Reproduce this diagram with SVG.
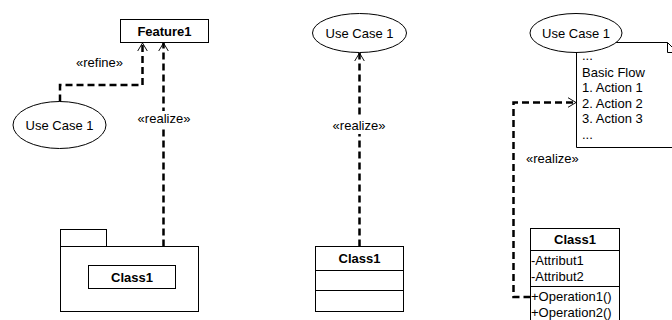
<svg xmlns="http://www.w3.org/2000/svg" width="672" height="320" viewBox="0 0 672 320">
  <defs>
    <style>
      text { font-family: "Liberation Sans", Arial, sans-serif; font-size: 13px; fill: #000; }
      .b { font-weight: bold; }
      .c { text-anchor: middle; }
      .shape { fill: #fff; stroke: #000; stroke-width: 1; }
      .line { fill: none; stroke: #000; stroke-width: 1; }
      .dep { fill: none; stroke: #000; stroke-width: 2.5; stroke-dasharray: 7 4; }
      .lbl { fill: #fff; stroke: none; }
    </style>
    <marker id="open" viewBox="0 0 10 12" refX="10" refY="6" markerWidth="8" markerHeight="12" markerUnits="userSpaceOnUse" orient="auto">
      <path d="M0,0 L10,6 L0,12" fill="none" stroke="#000" stroke-width="1.2"/>
    </marker>
  </defs>

  <!-- Left group -->
  <g id="feature1">
    <rect class="shape" x="120.5" y="19.5" width="88" height="23"/>
    <text class="b c" x="164.5" y="35.5">Feature1</text>
  </g>
  <g id="usecase-left">
    <ellipse class="shape" cx="59.5" cy="125" rx="46.5" ry="23.5"/>
    <text class="c" x="59.5" y="130">Use Case 1</text>
  </g>
  <g id="package">
    <rect class="shape" x="60.5" y="229.5" width="46" height="17"/>
    <rect class="shape" x="60.5" y="246.5" width="138" height="65"/>
    <rect class="shape" x="88.5" y="265.5" width="87" height="23"/>
    <text class="b c" x="132" y="282">Class1</text>
  </g>

  <!-- Middle group -->
  <g id="usecase-mid">
    <ellipse class="shape" cx="359.5" cy="33" rx="47" ry="19.5"/>
    <text class="c" x="359.5" y="38">Use Case 1</text>
  </g>
  <g id="class-mid">
    <rect class="shape" x="315.5" y="246.5" width="88" height="65"/>
    <line class="line" x1="315.5" y1="270.5" x2="403.5" y2="270.5"/>
    <line class="line" x1="315.5" y1="290.5" x2="403.5" y2="290.5"/>
    <text class="b c" x="359.5" y="263">Class1</text>
  </g>

  <!-- Right group -->
  <g id="note">
    <path class="shape" d="M576.5,42.5 H667.5 L677,52 V147.5 H576.5 Z"/>
    <path class="line" d="M667.5,42.5 V52.5 H677"/>
    <text x="582" y="60">...</text>
    <text x="582" y="76.5">Basic Flow</text>
    <text x="582" y="92">1. Action 1</text>
    <text x="582" y="107.5">2. Action 2</text>
    <text x="582" y="123">3. Action 3</text>
    <text x="582" y="138.5">...</text>
  </g>
  <g id="usecase-right">
    <ellipse class="shape" cx="576" cy="33" rx="46" ry="19.5"/>
    <text class="c" x="576" y="38">Use Case 1</text>
  </g>
  <g id="class-right">
    <rect class="shape" x="530.5" y="228.5" width="89" height="95"/>
    <line class="line" x1="530.5" y1="250.5" x2="619.5" y2="250.5"/>
    <line class="line" x1="530.5" y1="286.5" x2="619.5" y2="286.5"/>
    <text class="b c" x="575" y="244">Class1</text>
    <text x="531" y="265">-Attribut1</text>
    <text x="531" y="281">-Attribut2</text>
    <text x="531" y="300.5">+Operation1()</text>
    <text x="531" y="316.5">+Operation2()</text>
  </g>

  <!-- Connectors -->
  <g id="connectors">
    <path class="dep" d="M60,101.5 V85 H142.5 V43" marker-end="url(#open)"/>
    <text x="76" y="67">«refine»</text>

    <path class="dep" d="M163.5,246.5 V43" marker-end="url(#open)"/>
    <rect class="lbl" x="138" y="111" width="52" height="16"/>
    <text class="c" x="164" y="123">«realize»</text>

    <path class="dep" d="M359.5,246.5 V53" marker-end="url(#open)"/>
    <rect class="lbl" x="332" y="118" width="54" height="16"/>
    <text class="c" x="359" y="130">«realize»</text>

    <path class="dep" d="M530.5,297 H513.5 V102.5 H576" marker-end="url(#open)"/>
    <text x="526" y="163">«realize»</text>
  </g>
</svg>
